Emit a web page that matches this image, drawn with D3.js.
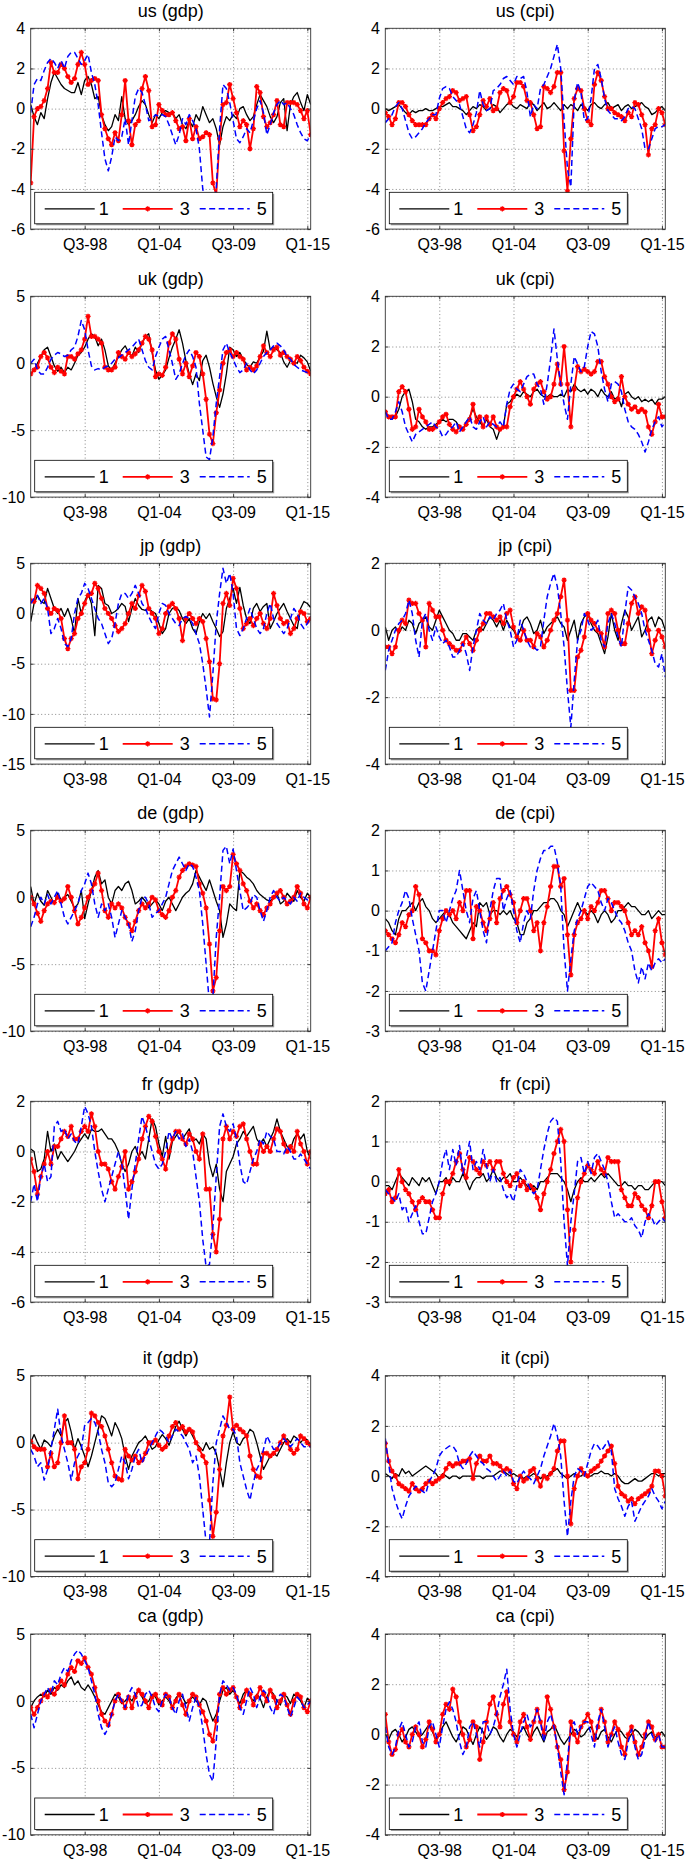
<!DOCTYPE html>
<html>
<head>
<meta charset="utf-8">
<script src="https://cdn.jsdelivr.net/npm/d3@7"></script>
<style>
  html, body { margin: 0; padding: 0; background: #fff; overflow: hidden; }
  svg { display: block; }
  .grid line { stroke: #000; stroke-opacity: 0.6; stroke-dasharray: 1,2.5; stroke-width: 0.8; }
</style>
</head>
<body>
<div id="chart"></div>
<script>
// quarterly forecast errors, Q3-94 .. Q2-15, horizons 1, 3 and 5
const usGdp1 = [0.2, -0.4, -0.8, -0.2, -0.5, 0.5, 1.3, 1.8, 1.5, 1.2, 1.0, 0.9, 0.8, 0.8, 1.3, 0.7, 1.4, 1.6, 1.2, 0.5, 0.6, -0.3, -0.8, -1.1, -0.9, -0.3, -0.6, 0.6, -0.5, -0.8, -0.6, -0.3, 0.1, 0.4, 0.2, -0.3, -0.7, -0.3, -0.5, -0.2, -0.1, -0.2, -0.2, -0.5, -0.3, -0.8, -1.0, -0.6, -0.9, -0.3, -0.6, 0.1, -0.3, -0.7, -0.5, -1.0, -1.8, -0.9, -0.4, -0.6, -0.3, -0.5, 0.0, 0.1, -0.3, -0.6, -0.4, 0.2, 0.7, 0.4, 0.1, -0.4, -0.7, -0.4, 0.3, 0.5, -1.1, 0.2, 0.6, 0.8, 0.3, -0.1, 0.7, 0.2];
const usGdp3 = [-3.7, -0.4, 0.0, 0.1, 0.4, 1.0, 2.3, 1.8, 1.8, 2.2, 2.0, 1.6, 1.3, 1.5, 2.2, 2.8, 2.2, 1.2, 1.4, 1.5, 1.4, -0.3, -1.0, -1.5, -1.8, -1.2, -1.6, -0.3, 1.4, -0.6, -1.8, -0.8, -0.6, 1.0, 1.6, 0.9, -0.9, -0.8, 0.2, -0.1, -0.3, -0.3, -0.2, -0.6, -1.0, -0.9, -1.6, -0.5, -1.5, -0.9, -1.5, -1.4, -1.2, -1.3, -3.7, -4.3, -1.5, 0.2, 0.3, 1.2, 0.5, -0.2, -0.9, -0.6, -0.8, -2.0, -1.0, 1.1, 0.8, -0.4, -0.9, -0.7, -0.3, 0.4, -0.8, -0.9, 0.3, 0.3, 0.3, 0.2, -0.1, -0.5, -0.1, -1.3];
const usGdp5 = [-0.2, 1.2, 1.5, 1.4, 1.9, 2.3, 2.5, 2.3, 2.0, 2.4, 2.0, 2.6, 2.8, 2.8, 2.5, 2.2, 2.4, 2.7, 1.8, 1.2, 0.2, -1.2, -2.5, -3.1, -2.4, -1.4, -1.6, -1.4, -0.5, -1.8, -0.6, 0.6, 1.0, 0.8, 0.2, -0.6, -0.5, -0.3, -0.4, -0.3, -0.4, -0.8, -1.3, -1.8, -1.3, -0.5, -0.8, -0.3, -0.6, -1.0, -2.0, -4.0, -5.0, -5.5, -5.0, -4.0, -1.0, 1.2, 1.0, 0.3, -0.6, -1.5, -1.7, -1.4, -1.0, -1.2, -0.6, 0.0, 0.4, -0.2, -1.3, -0.8, -0.2, 0.2, 0.4, 0.2, 0.3, 0.0, -0.3, -0.8, -1.2, -1.5, -1.6, -1.3];

const usCpi1 = [0.0, -0.1, 0.0, 0.1, 0.2, 0.0, -0.2, -0.3, -0.1, -0.2, -0.1, -0.1, 0.0, -0.1, -0.1, 0.0, 0.1, 0.1, 0.2, 0.3, 0.1, 0.1, 0.0, -0.1, -0.3, -0.1, 0.1, 0.0, 0.2, 0.1, -0.1, 0.0, 0.2, 0.1, -0.2, 0.0, 0.2, 0.3, 0.1, 0.0, 0.2, 0.1, 0.0, 0.3, 0.2, -0.1, 0.1, 0.3, 0.0, 0.1, 0.3, 0.1, -0.1, 0.2, 0.0, 0.2, 0.1, -0.1, 0.2, 0.1, -0.1, 0.2, 0.3, 0.1, 0.0, 0.2, 0.3, 0.0, 0.1, 0.2, -0.1, 0.1, 0.2, 0.0, 0.1, 0.2, 0.3, 0.1, 0.0, -0.3, -0.2, 0.0, 0.1, -0.1];
const usCpi3 = [-0.2, -0.4, -0.8, -0.5, 0.3, 0.3, 0.1, -0.3, -0.6, -0.8, -0.8, -0.8, -0.8, -0.5, -0.3, -0.5, 0.0, 0.3, 0.5, 0.6, 0.9, 0.8, 0.4, 0.5, 0.6, -0.3, -1.1, -0.9, -0.3, 0.4, 0.1, 0.5, -0.1, 0.0, 0.8, 1.0, 0.9, 0.3, 0.6, 1.3, 1.3, 1.1, 0.4, 0.3, -0.3, -1.0, -0.9, 1.1, 1.0, 0.8, 1.1, 1.8, 1.8, -2.1, -4.1, -1.5, 0.5, 1.0, 0.9, 0.0, -0.6, -0.8, 1.2, 1.8, 1.4, 0.6, 0.0, 0.0, -0.2, -0.3, -0.4, -0.6, -0.2, -0.4, 0.3, 0.2, -0.3, -0.8, -2.3, -1.0, -0.8, 0.0, -0.2, -0.8];
const usCpi5 = [-0.7, -0.5, -0.3, 0.1, 0.3, 0.0, -0.6, -1.2, -1.5, -1.4, -1.2, -1.0, -0.7, -0.5, -0.3, -0.3, 0.5, 1.0, 1.1, 1.0, 0.6, 0.4, 0.2, -0.4, -1.0, -1.2, -0.8, -0.2, 0.9, 0.2, -0.1, 0.0, 0.9, 1.0, 1.2, 1.5, 1.6, 1.4, 1.2, 1.6, 1.5, 1.6, 0.8, -0.4, 0.2, 0.0, 1.0, 1.2, 1.6, 2.0, 2.6, 3.2, 2.0, -0.6, -3.0, -3.9, 0.4, 1.3, 0.8, -0.6, -0.5, 0.5, 2.0, 2.2, 1.5, 0.5, -0.1, -0.3, -0.5, -0.5, -0.6, -0.4, 0.0, 0.1, 0.0, -0.5, -1.0, -2.0, -2.0, -1.5, -1.0, -0.9, -0.9, -0.8];

const ukGdp1 = [-0.8, -0.5, 0.0, 0.5, 1.0, 1.2, 0.5, -0.2, -0.6, -0.3, -0.7, -0.3, -0.5, 0.0, 0.6, 0.8, 1.2, 1.8, 2.2, 2.0, 1.3, 1.8, 1.0, -0.2, -0.5, 0.0, 0.5, 1.0, 1.3, 0.8, 0.5, 1.2, 0.8, 1.5, 2.0, 2.2, 0.8, -0.5, -1.2, -0.9, -0.5, 0.4, 1.2, 1.8, 2.5, 1.5, 0.2, -0.8, -1.6, -0.8, -1.3, 0.2, 0.6, -0.3, -1.5, -2.5, -3.3, -2.3, -0.8, 1.2, 1.0, 0.5, 0.8, 0.3, -0.1, -0.3, 0.1, 0.0, 0.5, 0.9, 2.4, 1.0, 1.2, 1.0, 0.8, 0.1, -0.3, 0.2, 0.1, 0.0, 0.6, 0.4, 0.1, -0.6];
const ukGdp3 = [-0.8, -0.5, -0.3, 0.5, 0.8, 0.4, -0.3, -0.7, -0.3, -0.6, -0.8, 0.5, 0.5, 0.3, 0.7, 1.0, 1.8, 3.5, 2.0, 2.0, 1.8, 1.5, -0.3, -0.5, -0.5, -0.3, 0.8, 0.5, 0.3, 0.8, 0.5, 0.7, 1.0, 1.5, 2.0, 1.8, 1.0, -1.0, -0.8, -0.9, -0.3, 1.5, 2.2, 1.8, 0.3, -0.8, 0.0, -1.0, -0.2, 0.8, 0.5, -0.8, -2.7, -5.3, -6.0, -3.7, -2.0, 0.0, 0.8, 1.0, 0.5, 0.8, 0.5, 0.3, -0.5, -0.3, -0.5, -0.2, 0.5, 1.3, 0.8, 0.5, 1.0, 1.2, 0.6, 0.8, 0.5, 0.3, 0.0, 0.5, 0.2, -0.3, -0.6, -0.8];
const ukGdp5 = [0.0, 0.3, -0.5, -0.8, -0.8, -0.3, 0.3, 0.6, 0.8, 0.7, 0.5, 0.6, 1.0, 1.2, 2.0, 3.2, 2.5, 1.0, -0.2, -0.5, -0.4, -0.5, -0.3, -0.2, 0.0, 0.3, 0.4, 0.6, 0.8, 1.0, 1.2, 1.5, 1.8, 1.0, 0.2, -0.3, -0.5, 0.5, 1.2, 1.8, 2.0, 1.0, 0.0, -1.2, -0.8, 0.0, 0.6, 1.0, 0.5, -0.3, -3.0, -5.0, -7.0, -7.2, -5.5, -3.0, -1.0, 1.0, 1.5, 0.8, 0.3, -0.3, -0.7, -0.5, 0.0, -0.5, -0.8, -0.5, 0.0, 0.5, 0.8, 1.0, 1.3, 1.5, 1.3, 1.0, 0.5, 0.3, -0.1, -0.3, -0.5, -0.6, -0.7, -0.8];

const ukCpi1 = [-0.6, -0.8, -0.9, -0.8, -0.5, 0.0, 0.2, 0.3, -0.2, -0.9, -1.0, -1.2, -1.3, -1.2, -1.2, -1.1, -1.0, -0.9, -1.0, -0.9, -0.9, -1.0, -1.2, -1.3, -1.0, -0.8, -0.5, -0.8, -1.0, -1.2, -0.9, -1.2, -1.3, -1.7, -1.3, -1.2, -0.3, -0.2, 0.0, 0.1, 0.0, 0.2, 0.1, 0.0, 0.2, 0.3, 0.1, 0.0, 0.0, 0.1, 0.0, 0.0, 0.1, 0.0, 0.3, 0.2, 0.5, 0.3, 0.2, 0.3, 0.1, 0.3, 0.2, 0.0, 0.3, 0.1, 0.0, 0.2, -0.1, 0.0, -0.4, 0.1, 0.2, 0.0, -0.1, 0.0, -0.2, -0.1, -0.2, -0.1, -0.3, -0.1, -0.1, 0.0];
const ukCpi3 = [-0.6, -0.8, -0.8, -0.8, 0.2, 0.4, 0.2, -0.5, -1.3, -1.2, -0.5, -0.8, -1.0, -1.3, -1.3, -1.2, -1.0, -0.8, -0.7, -1.1, -1.3, -1.4, -1.2, -1.3, -1.1, -0.9, -0.3, -1.0, -0.8, -1.2, -0.8, -1.1, -0.8, -1.2, -1.3, -1.2, -1.2, -0.4, 0.0, 0.3, 0.6, 0.3, 0.0, -0.3, 0.3, 0.5, 0.6, 0.2, -0.1, 0.0, 0.5, 1.3, 0.5, 2.0, 0.5, -1.2, 0.3, 1.2, 1.0, 1.1, 1.0, 0.9, 1.0, 1.4, 1.4, 0.8, 0.5, 0.0, -0.2, -0.1, 0.8, 0.0, -0.3, -0.5, -0.4, -0.6, -0.5, -0.6, -1.2, -1.5, -1.0, -0.3, -0.8, -0.8];
const ukCpi5 = [-0.6, -0.9, -0.9, -0.6, -0.2, -0.6, -1.2, -1.5, -1.8, -1.5, -1.4, -1.3, -1.2, -1.1, -1.0, -1.2, -1.3, -1.6, -1.5, -1.3, -1.2, -1.0, -1.4, -1.2, -1.0, -0.8, -1.2, -1.3, -1.0, -0.8, -1.2, -1.0, -1.1, -1.2, -1.0, -1.2, -0.3, 0.3, 0.5, 0.3, 0.2, 0.5, 0.8, 0.9, 0.9, 0.5, 0.3, -0.3, 0.5, 1.5, 2.7, 1.5, 0.5, -0.3, -0.9, 0.5, 1.6, 1.3, 1.0, 1.2, 2.0, 2.6, 2.5, 2.0, 1.0, 0.3, -0.2, 0.5, 0.6, 0.5, 0.2, -0.5, -1.0, -1.2, -1.3, -1.5, -1.8, -2.2, -1.8, -1.3, -1.0, -0.8, -1.2, -1.0];

const jpGdp1 = [-0.8, 1.0, 1.8, 1.2, 1.0, 2.5, 1.5, 0.5, 0.0, 0.5, -0.3, 0.5, -0.5, -2.0, 1.5, 0.0, 1.2, 2.0, 1.0, -2.2, 2.8, 2.5, 1.0, 0.8, 0.0, 0.2, 0.5, 1.0, 0.7, -0.8, 0.5, 1.5, 0.8, 0.4, 0.3, 0.5, 0.2, 0.0, -1.0, -2.0, -1.5, 0.0, 0.5, 0.6, 0.3, -0.5, -1.0, -0.5, -1.5, -2.0, -0.8, 0.0, -0.5, 0.0, -0.8, -1.5, -2.3, -1.8, 0.5, 1.5, 2.5, 1.0, 2.6, 0.8, -0.5, -1.0, 0.5, 1.0, 0.2, 0.7, 1.0, -1.5, -0.8, 0.0, 0.5, 1.0, 0.2, -0.5, -1.2, -1.5, 0.5, 1.2, 1.0, 0.6];
const jpGdp3 = [1.3, 1.2, 2.8, 2.5, 2.0, 0.5, 0.0, 0.5, 0.3, -0.5, -2.5, -3.5, -2.5, -2.0, -0.5, 0.0, 1.0, 1.8, 2.0, 3.0, 2.5, 1.5, 0.5, 0.0, -0.5, -1.2, -1.8, -1.5, -1.0, 0.0, 1.0, 0.5, 1.8, 2.8, 2.2, 0.5, 0.0, -0.5, -2.0, -1.5, 0.0, 0.7, 1.0, 0.5, -0.5, -2.7, -0.5, 0.0, -0.5, -1.0, -0.5, -0.8, -2.5, -4.8, -8.5, -8.6, -5.0, 1.0, 2.0, 0.8, 3.5, 2.5, 0.5, -1.5, -1.0, -0.5, -1.2, -0.5, 0.0, -1.0, -1.5, -0.5, 2.0, 0.8, -0.5, -1.0, -0.8, -2.0, -1.5, -0.5, 0.2, 0.0, -0.8, -0.5];
const jpGdp5 = [1.0, 1.5, 1.8, 1.0, 1.5, 0.5, -2.0, -1.5, -0.5, -1.5, -3.0, -3.3, -2.5, 0.0, 1.5, 2.0, 3.0, 2.5, 1.5, 0.5, -0.5, -1.0, -2.0, -3.0, -2.5, -1.0, 1.0, 2.0, 2.0, 1.5, 2.0, 2.8, 2.0, 1.0, 0.5, -0.3, -1.0, -1.5, 0.0, 1.0, 0.8, 0.0, -0.5, -1.0, -1.2, -0.5, -0.3, -0.5, -1.0, -2.0, -3.0, -5.0, -7.5, -10.3, -6.0, -1.0, 2.0, 4.5, 3.0, 4.0, 2.0, -1.5, -2.2, -1.5, -0.5, 0.5, -0.5, -1.5, -2.0, -1.5, 0.0, 1.0, -0.5, -1.0, -1.5, -2.0, -1.5, -0.5, 0.5, 0.0, -1.0, -1.5, -1.0, -0.3];

const jpCpi1 = [0.1, -0.3, 0.0, 0.1, -0.1, 0.1, 0.0, 0.3, 0.2, -0.1, 0.2, 0.3, 0.4, 0.1, 0.0, 0.3, 0.6, 0.4, 0.2, 0.0, -0.1, -0.3, -0.3, -0.1, -0.1, -0.2, -0.3, 0.0, 0.1, 0.0, 0.2, 0.4, 0.3, 0.1, 0.3, 0.0, 0.3, 0.1, 0.0, -0.2, 0.0, 0.3, 0.4, 0.2, -0.1, 0.0, 0.3, -0.1, 0.1, 0.2, 0.3, 0.4, 0.2, 0.1, -0.3, 0.0, 0.3, -0.3, 0.2, 0.4, 0.5, 0.2, 0.0, -0.1, -0.4, -0.7, -0.2, 0.5, 0.0, -0.3, 0.2, 0.6, 0.4, 0.0, 0.2, 0.4, -0.2, 0.0, 0.3, 0.4, 0.1, 0.4, 0.3, 0.0];
const jpCpi3 = [-0.5, -0.5, -0.7, -0.5, 0.0, 0.3, 0.2, 0.9, 0.8, 0.8, 0.5, 0.3, -0.5, 0.8, 0.6, 0.4, 0.4, 0.0, -0.3, -0.4, -0.5, -0.6, -0.6, -0.4, -0.2, -0.4, -0.6, -0.3, 0.0, 0.2, 0.5, 0.5, 0.4, 0.3, 0.4, 0.2, 0.5, 0.6, 0.1, -0.2, -0.3, 0.0, -0.3, -0.3, -0.5, -0.1, -0.2, -0.5, -0.3, 0.0, 0.3, 0.5, 1.0, 1.5, 0.3, -1.8, -1.8, -0.8, -0.6, -0.2, 0.5, 0.3, 0.2, 0.0, -0.1, -0.5, 0.5, 0.6, 0.5, 0.0, -0.4, -0.4, 0.2, 0.8, 1.0, 0.5, 0.7, 0.6, 0.0, -0.7, -0.3, 0.0, -0.2, -0.5];
const jpCpi5 = [-1.2, -0.6, -0.3, 0.0, 0.2, 0.3, 0.5, 0.9, 0.5, -0.3, -0.8, 0.3, 0.5, 0.0, -0.3, 0.1, -0.2, -0.4, -0.3, -0.5, -0.8, -0.8, -0.6, -0.4, -0.7, -1.2, -0.5, 0.0, 0.5, 0.3, 0.2, 0.4, 0.3, 0.5, 0.6, 0.8, 0.3, 0.0, -0.5, -0.3, 0.3, 0.0, -0.3, -0.5, -0.5, -0.6, -0.5, 0.3, 1.0, 1.4, 1.7, 1.3, 0.5, -0.5, -1.8, -2.9, -1.5, -0.3, 0.0, 0.5, 0.3, 0.0, 0.1, 0.3, -0.3, -0.5, 0.2, 0.5, 0.2, -0.2, -0.5, 0.5, 1.3, 1.2, 1.0, 0.8, 0.5, 0.0, -0.3, -0.6, -1.0, -1.1, -0.7, -1.4];

const deGdp1 = [0.8, -0.5, 0.3, -0.3, -0.6, 0.5, 0.0, -0.5, 0.3, -0.2, 0.0, 0.2, -0.3, -0.8, -0.5, 0.5, -1.6, -0.5, 0.5, 1.5, 2.0, 1.0, 1.3, 0.0, -0.5, 0.5, 0.8, 0.5, 1.0, 1.2, 0.5, -0.5, -0.3, 0.0, -0.3, -0.8, -0.5, -0.2, -0.5, -1.0, -0.3, 0.0, -0.5, -1.0, -0.5, 0.0, 0.3, 0.5, 1.0, 2.0, 1.5, 1.0, 0.5, 1.3, 0.5, -0.3, -1.0, -3.0, -2.0, -0.5, -0.8, -1.0, 2.0, 1.8, 1.5, 1.3, 1.0, 0.5, 0.2, 0.0, -0.2, -0.3, 0.0, 0.3, -0.5, -0.3, 0.3, 0.0, -0.3, 0.5, 0.0, -0.3, 0.3, 0.0];
const deGdp3 = [0.0, -0.5, -1.2, -1.8, -1.0, -0.5, -0.3, -0.4, 0.0, -0.3, -0.1, 0.8, 0.0, -1.0, -2.0, -1.5, -0.8, 0.0, 0.5, 1.0, 1.8, 0.5, -1.0, -1.5, -0.5, -0.8, -0.5, -0.8, -1.5, -2.0, -2.5, -1.8, -1.0, -0.5, -0.8, -0.5, 0.0, -0.2, -1.0, -1.3, -1.5, -1.0, 0.0, 0.5, 1.5, 2.0, 2.3, 2.5, 2.4, 2.3, 1.0, 0.3, -0.8, -3.5, -7.0, -6.0, -2.5, 0.8, 0.5, 0.8, 3.2, 2.5, 2.0, 1.0, 0.5, -0.3, -0.8, -0.5, -1.0, -1.3, -0.8, -0.5, 0.0, 0.3, 0.5, 0.0, -0.5, -0.3, 0.0, 0.8, 0.3, -0.5, -0.8, 0.0];
const deGdp5 = [-2.2, -1.5, -0.5, 0.0, -0.5, 0.2, -0.5, 0.0, 0.5, -0.5, -1.5, -2.0, -1.5, -1.0, -0.5, 0.5, 1.0, 1.8, 1.0, -0.5, -1.5, -0.5, -1.0, -0.5, -1.5, -3.0, -2.0, -1.0, -1.5, -2.0, -3.3, -2.5, -1.0, 0.0, 0.0, -0.5, -1.5, -1.2, -1.0, -0.5, 0.0, 1.0, 2.0, 2.5, 3.0, 2.5, 2.0, 2.5, 2.3, 1.5, 0.5, -2.0, -5.0, -8.0, -7.5, -3.0, 0.0, 3.5, 3.8, 2.5, 3.6, 2.0, 0.5, -1.0, -0.8, -0.5, 0.2, 0.0, -1.0, -1.8, -1.0, 0.0, 0.5, 0.0, -0.3, 0.0, -0.3, -0.5, 0.0, -0.3, 0.3, 0.0, -0.2, 0.0];

const deCpi1 = [-0.2, -0.3, -0.5, -0.6, -0.2, 0.0, 0.0, 0.1, 0.2, 0.0, 0.2, 0.3, 0.1, 0.0, -0.2, -0.3, -0.2, -0.1, 0.0, -0.1, -0.3, -0.4, -0.5, -0.6, -0.7, -0.5, -0.3, -0.4, 0.2, 0.1, 0.2, -0.1, 0.0, 0.0, -0.1, 0.0, -0.1, 0.0, -0.2, -0.3, -0.6, -0.6, -0.3, -0.2, 0.0, 0.0, 0.1, 0.2, 0.2, 0.3, 0.3, 0.2, 0.0, -0.1, -0.4, -0.2, 0.0, 0.2, 0.0, 0.0, -0.1, 0.0, -0.1, -0.3, -0.1, 0.0, -0.1, -0.3, -0.2, 0.0, 0.0, 0.1, 0.2, 0.1, 0.1, 0.0, -0.1, -0.1, 0.0, -0.2, -0.1, 0.0, -0.1, -0.1];
const deCpi3 = [-0.5, -0.6, -0.7, -0.8, -0.6, -0.3, -0.4, -0.1, 0.0, 0.6, 0.4, -0.7, -0.8, -1.0, -1.0, -1.1, -0.5, -0.2, 0.0, -0.1, 0.0, -0.2, 0.2, 0.0, 0.5, 0.5, -0.7, 0.1, 0.0, -0.3, -0.5, -0.2, 0.2, -0.3, 0.3, 0.5, 0.6, 0.4, 0.2, -0.3, 0.0, 0.3, 0.3, 0.0, -0.5, -0.3, -1.0, -0.3, 0.1, 0.6, 1.1, 1.1, 0.6, 0.8, -0.6, -1.6, -0.6, -0.3, -0.2, 0.0, -0.2, 0.1, 0.0, 0.2, 0.5, 0.5, 0.3, 0.0, 0.2, 0.2, 0.1, 0.0, -0.3, -0.6, -0.5, -0.6, -0.4, -0.8, -1.0, -1.4, -0.5, -0.2, -0.8, -1.1];
const deCpi5 = [-1.0, -0.9, -0.8, -0.3, 0.0, 0.2, 0.5, 0.3, -0.2, -0.6, -1.0, -1.8, -2.0, -1.5, -1.0, -0.5, 0.0, 0.0, -0.3, 0.0, 0.3, 0.5, 1.0, 0.5, 0.0, -0.3, 0.3, 0.5, 0.0, -0.5, -0.8, 0.0, 0.5, 0.8, 0.8, 0.0, 0.3, 0.5, 0.0, -0.5, -0.8, -0.3, 0.0, -0.2, 0.5, 1.0, 1.3, 1.5, 1.5, 1.6, 1.6, 1.2, 0.6, -1.0, -2.0, -1.2, -0.5, -0.2, 0.0, 0.3, 0.6, 0.7, 0.6, 0.5, 0.2, 0.0, 0.3, 0.2, 0.0, -0.2, -0.3, -0.5, -0.8, -1.0, -1.5, -1.8, -1.4, -1.7, -1.3, -1.5, -1.3, -1.2, -1.3, -1.2];

const frGdp1 = [0.1, 0.0, -0.8, -0.7, -0.3, 0.8, 0.0, 0.3, -0.3, 0.0, -0.2, -0.4, -0.2, 0.0, 0.3, 0.5, 0.7, 0.5, 0.9, 0.8, 0.8, 0.9, 0.7, 0.5, 0.5, 0.3, 0.0, -0.5, -0.8, -0.5, 0.0, 0.2, -0.2, 0.0, -0.3, 0.5, 1.3, 1.0, 0.3, -0.2, 0.6, -0.3, 0.4, 0.6, 0.8, 0.5, 0.7, 0.9, 0.4, 0.5, 0.3, 0.7, 0.5, -0.5, -1.0, -0.5, -1.5, -2.0, -0.8, -0.5, -0.2, 0.3, 0.5, 0.8, 0.6, 0.8, 1.0, 0.5, 0.3, 0.5, 0.2, 0.5, 0.8, 1.3, 0.8, 0.5, 0.2, 0.1, 0.5, 0.7, 0.5, 0.7, 0.0, -0.3];
const frGdp3 = [-0.3, -0.8, -1.7, -1.0, -0.5, 0.0, -0.5, 0.2, 0.2, 0.5, 0.8, 0.6, 1.0, 0.5, 0.5, 0.8, 1.0, 0.8, 1.5, 1.0, 0.0, -0.5, -0.5, -0.7, -1.2, -1.5, -1.0, -0.6, 0.0, -1.5, -1.2, -0.8, -0.3, 0.5, 1.0, 1.4, 1.2, 0.6, 0.0, -0.3, -0.7, 0.0, 0.5, 0.8, 0.8, 0.5, 0.3, 0.7, 0.5, 0.0, -0.3, 0.7, -1.5, -1.5, -3.3, -4.0, -2.7, 0.5, 1.0, 0.5, 0.8, 0.6, 1.0, 1.1, 0.5, 0.0, -0.5, -0.5, 0.3, 0.0, 0.2, 0.0, 0.5, 0.9, 0.8, 0.3, 0.0, 0.2, 0.0, 0.8, 0.3, 0.0, -0.5, 0.0];
const frGdp5 = [-2.0, -1.3, -2.0, -1.0, -0.5, -1.2, -1.0, 1.0, 1.2, 0.8, 0.9, 0.5, 0.7, 0.4, 0.3, 1.0, 1.8, 1.5, 1.0, 0.0, -0.8, -1.5, -2.0, -1.5, -1.0, -0.5, 0.0, -0.5, -1.5, -2.7, -1.5, -0.5, 0.5, 1.4, 1.0, 0.5, 0.0, -0.5, -0.7, -0.5, 0.0, 0.8, 0.5, 0.8, 0.5, 0.7, 0.2, 0.5, 0.0, -1.0, -2.0, -3.5, -4.6, -4.5, -3.0, -1.0, 1.0, 1.5, 1.0, 0.8, 1.1, 0.5, -0.5, -1.2, -1.3, -0.8, -0.3, 0.0, 0.5, 0.3, 0.8, 0.6, 0.5, 0.0, 0.0, -0.1, 0.2, 0.0, -0.3, -0.3, -0.1, -0.3, -0.5, -0.7];

const frCpi1 = [-0.1, -0.1, -0.2, 0.0, 0.2, 0.1, 0.0, -0.1, 0.1, 0.0, -0.1, 0.1, 0.0, 0.1, -0.1, -0.3, 0.0, 0.0, 0.1, -0.1, 0.1, 0.0, 0.0, 0.2, 0.0, -0.2, 0.0, 0.1, 0.1, 0.2, 0.0, 0.1, 0.3, 0.1, 0.0, 0.1, 0.1, 0.2, 0.0, 0.0, 0.1, 0.0, -0.1, -0.2, -0.1, -0.2, 0.0, 0.0, 0.1, 0.2, 0.2, 0.2, 0.1, 0.0, -0.2, -0.5, -0.2, 0.0, 0.1, 0.0, 0.0, 0.1, 0.0, 0.1, 0.2, 0.1, 0.2, 0.1, 0.0, -0.1, -0.1, 0.0, -0.1, -0.1, -0.2, -0.1, -0.1, -0.2, -0.2, -0.1, 0.0, 0.0, 0.0, -0.1];
const frCpi3 = [-0.3, -0.2, -0.5, -0.4, 0.3, 0.0, -0.2, -0.3, -0.5, -0.7, -0.5, -0.4, -0.5, -0.5, -0.7, -0.9, -0.9, -0.3, 0.0, 0.0, 0.2, 0.5, 0.7, 0.3, 0.1, 0.6, 0.5, 0.3, 0.2, 0.5, 0.4, 0.5, 0.3, 0.5, 0.5, 0.2, 0.0, -0.1, 0.1, 0.2, -0.1, 0.0, -0.2, -0.1, -0.2, -0.4, -0.7, -0.3, 0.0, 0.3, 0.7, 1.0, 1.3, 1.0, -0.7, -2.0, -1.2, -0.4, 0.0, 0.2, 0.4, 0.3, 0.2, 0.5, 0.3, 0.2, 0.6, 0.5, 0.5, 0.5, -0.2, -0.4, -0.6, -0.6, -0.3, -0.4, -0.6, -0.7, -0.9, -0.6, 0.0, 0.0, -0.5, -0.9];
const frCpi5 = [-0.2, -0.3, -0.4, -0.5, -0.3, -0.7, -0.6, -1.0, -0.8, -0.6, -1.0, -1.3, -1.3, -0.9, -0.5, -0.3, 0.0, 0.5, 0.8, 0.3, 0.8, 0.4, 0.9, 0.2, 0.6, 1.0, 0.3, 0.5, 0.3, 0.8, 0.4, 0.0, 0.3, 0.0, 0.1, -0.2, -0.4, -0.3, -0.5, -0.1, 0.3, 0.2, 0.0, -0.2, -0.3, -0.2, 0.3, 0.8, 1.2, 1.5, 1.6, 1.5, 0.5, -1.0, -2.1, -1.0, -0.3, 0.5, 0.6, 0.2, 0.5, 0.2, 0.6, 0.7, 0.5, 0.3, 0.0, -0.5, -0.9, -0.8, -0.9, -1.0, -1.0, -0.9, -1.1, -1.2, -1.4, -1.0, -0.8, -0.9, -1.1, -1.0, -0.9, -1.0];

const itGdp1 = [0.0, 0.6, 0.0, -0.5, 0.2, 0.0, -0.3, 0.5, 1.0, 0.5, 1.5, 1.8, 0.8, -0.5, 0.3, -0.3, -1.0, -1.8, -1.0, 0.0, 1.0, 2.0, 1.8, 1.2, 0.5, 1.5, 1.0, 0.3, -1.0, -2.0, -1.0, -0.5, 0.0, 0.2, 0.5, 0.0, -0.5, -0.3, 0.2, 0.6, 0.3, -0.2, 0.5, 1.2, 1.6, 1.0, 0.5, 1.0, 0.5, 0.0, -0.3, -0.6, 0.0, -0.5, -0.3, -0.8, -2.0, -3.3, -1.5, 0.0, 0.8, 0.0, -0.2, 0.3, 0.5, 1.0, 0.8, 0.0, -1.0, -2.0, -1.5, -1.0, -0.8, -1.0, -0.5, 0.0, 0.3, 0.0, 0.5, 0.3, 0.0, 0.3, 0.2, -0.3];
const itGdp3 = [0.1, -0.3, -0.5, -0.5, -0.5, -1.8, -0.8, -1.8, -1.5, 0.0, 2.0, 0.0, 0.0, -0.5, -2.7, -1.8, -1.5, -0.5, 2.2, 2.0, 1.5, 1.2, 0.5, -0.5, -1.5, -2.5, -2.7, -2.8, -0.5, -1.0, -1.3, -1.0, -1.5, -1.3, -0.8, 0.0, 0.0, 0.2, -0.2, -0.5, -0.3, 0.5, 1.2, 1.5, 1.0, 1.2, 0.8, 1.0, 0.8, 0.0, -0.5, -1.0, -1.5, -4.3, -7.0, -5.2, -2.0, 0.5, 1.3, 3.4, 1.0, 1.3, 1.0, 0.8, 0.5, -1.0, -2.0, -2.5, -2.6, -0.8, -0.8, -1.0, -0.8, -0.5, 0.0, 0.5, 0.0, -0.5, -0.8, -0.5, 0.5, 0.3, 0.0, -0.2];
const itGdp5 = [-0.5, -1.0, -1.8, -1.5, -2.8, -2.0, -0.5, 1.0, 2.5, 0.5, -0.5, -1.5, -2.8, -1.5, -1.0, -0.5, 1.3, 1.5, 1.8, 1.5, 0.8, -0.5, -1.5, -3.0, -3.3, -3.0, -2.0, -1.0, -1.5, -2.7, -2.0, -1.0, -0.5, -1.5, -1.0, -0.5, 0.0, 0.5, 1.0, 0.8, 0.5, 0.0, 0.5, 1.0, 0.8, 0.5, 0.0, -0.5, -1.5, -1.0, -2.5, -5.0, -7.5, -7.5, -3.0, 0.0, 1.0, 2.0, 1.5, 1.0, 1.0, 0.5, -1.5, -2.5, -3.5, -4.3, -3.0, -2.0, -1.5, -0.5, 0.5, 0.0, -0.5, -0.5, 0.0, 0.3, 0.0, -0.3, 0.0, 0.3, 0.0, -0.3, -0.3, -0.3];

const itCpi1 = [0.1, 0.0, -0.1, 0.1, 0.0, 0.3, 0.1, 0.2, 0.0, 0.1, 0.2, 0.3, 0.4, 0.3, 0.2, 0.1, -0.1, 0.1, 0.0, -0.1, 0.0, 0.0, -0.1, 0.0, 0.0, 0.0, 0.0, 0.0, 0.0, -0.1, 0.0, 0.0, 0.0, 0.1, 0.2, 0.2, 0.1, 0.0, 0.1, 0.0, 0.0, -0.1, 0.0, 0.0, 0.1, 0.0, -0.1, 0.0, 0.0, 0.1, 0.2, 0.3, 0.1, 0.0, -0.1, 0.0, 0.1, 0.0, 0.0, 0.1, 0.0, 0.0, 0.1, 0.1, 0.2, 0.1, 0.1, 0.0, 0.1, 0.0, -0.2, -0.3, -0.3, -0.2, -0.1, -0.2, -0.2, -0.1, 0.0, 0.1, 0.1, 0.0, 0.1, 0.1];
const itCpi3 = [1.3, 0.6, 0.2, 0.0, -0.3, -0.4, -0.5, -0.6, -0.3, -0.5, -0.6, -0.5, -0.3, -0.2, -0.3, -0.2, -0.1, 0.0, 0.3, 0.5, 0.4, 0.5, 0.5, 0.6, 0.6, 0.7, -0.1, 0.5, 0.8, 0.6, 0.6, 0.8, 0.5, 0.5, 0.4, 0.2, 0.3, 0.2, -0.3, -0.5, 0.0, -0.2, -0.1, 0.2, 0.3, -0.1, -0.4, 0.0, -0.1, 0.1, 0.3, 1.0, 1.4, 1.4, 0.0, -1.9, -0.5, 0.0, 0.3, 0.1, 0.0, 0.2, 0.3, 0.4, 0.6, 0.8, 1.0, 1.2, 0.5, -0.4, -0.7, -0.8, -1.0, -0.9, -1.1, -0.9, -0.8, -0.7, -0.6, -0.4, 0.2, 0.2, 0.0, -0.8];
const itCpi5 = [1.5, 0.5, -0.5, -1.0, -1.4, -1.7, -1.2, -0.8, -0.6, -0.4, -0.5, -0.6, -0.7, -0.2, 0.0, 0.3, 0.8, 1.0, 1.1, 1.2, 1.2, 1.0, 0.5, 0.3, 0.5, 0.8, 1.0, 0.8, 0.6, 0.5, 0.3, 0.2, 0.0, -0.2, 0.0, 0.2, 0.0, 0.2, -0.2, -0.3, 0.0, 0.2, 0.0, -0.1, -0.3, 0.0, 0.3, 0.8, 1.2, 1.6, 2.1, 1.6, 0.8, -1.0, -2.4, -1.0, 0.0, 0.3, 0.2, 0.0, 0.5, 1.0, 1.3, 1.2, 1.0, 1.2, 1.4, 1.0, -0.5, -0.9, -1.2, -1.6, -1.2, -1.0, -1.8, -1.5, -1.2, -1.0, -0.8, -0.5, -0.8, -1.0, -1.3, -1.0];

const caGdp1 = [-0.5, 0.0, 0.3, 0.5, 0.3, 0.8, 0.5, 1.0, 0.8, 1.2, 1.0, 1.5, 1.8, 1.2, 1.5, 1.0, 0.8, 1.2, 0.8, 0.3, -0.3, -0.8, -1.0, -0.5, 0.0, 0.5, 0.3, -0.2, 0.0, 0.3, 0.0, 0.5, 0.8, 0.3, -0.2, 0.0, 0.5, 0.3, -0.3, 0.0, 0.3, 0.0, -0.5, 0.2, 0.5, 0.3, -0.2, 0.0, 0.3, 0.0, -0.3, 0.2, 0.0, -0.8, -1.5, -1.0, 0.0, 0.8, 1.0, 0.5, 0.8, 0.3, -0.2, 0.5, 0.8, 0.3, 0.0, 0.5, 0.2, -0.5, 0.3, 0.8, 0.5, 0.0, -0.3, 0.5, 0.3, -0.2, 0.5, 0.3, 0.0, -0.5, 0.2, 0.0];
const caGdp3 = [-0.5, -1.0, -0.5, 0.0, 0.5, 0.3, 0.8, 0.5, 1.0, 1.5, 1.2, 2.0, 2.5, 2.2, 3.0, 2.8, 3.2, 2.5, 2.0, 1.0, 0.0, -1.0, -1.5, -1.8, -1.0, 0.0, 0.5, 0.0, -0.5, 0.3, -0.5, 0.3, 0.8, 0.5, 0.0, -0.5, 0.3, 0.5, 0.0, -0.3, 0.5, 0.3, -0.5, 0.0, 0.5, -0.3, -1.0, 0.0, 0.5, 0.3, -0.3, -0.8, -1.5, -2.5, -3.0, -1.5, 0.5, 1.0, 0.5, 0.8, 1.0, 0.3, -0.5, 0.0, 0.8, 0.5, -0.3, 0.3, 1.0, 0.5, 0.0, 0.8, 0.3, -0.5, 0.0, 0.5, -0.3, -1.0, 0.0, 0.5, 0.3, -0.5, -0.8, 0.0];
const caGdp5 = [-1.0, -2.0, -1.0, 0.0, 0.5, 1.0, 0.5, 1.5, 1.2, 2.0, 2.5, 2.2, 3.0, 3.5, 3.8, 3.5, 3.0, 2.5, 1.5, 0.5, -1.0, -2.0, -2.5, -2.0, -1.0, 0.0, 0.5, 0.0, -0.5, 0.5, 1.0, 0.5, -0.5, -0.3, 0.5, 0.8, 0.3, -0.5, -0.8, 0.0, 0.5, 0.3, -0.5, -1.0, 0.0, 0.5, -0.5, -1.5, -0.5, 0.3, -0.5, -2.0, -4.0, -5.5, -6.0, -3.0, 0.5, 1.5, 1.2, 0.8, 1.0, 0.5, -0.5, -1.0, 0.0, 1.0, 0.5, -0.5, 0.3, 0.8, 0.5, -0.5, -1.0, 0.0, 0.5, 0.3, -0.5, -1.2, -0.5, 0.3, 0.0, -0.5, -0.3, 0.0];

const caCpi1 = [0.0, -0.2, 0.1, 0.2, 0.0, -0.3, -0.1, 0.2, 0.3, 0.1, -0.1, 0.0, 0.2, 0.4, 0.1, -0.2, 0.0, 0.3, 0.5, 0.2, -0.1, -0.3, 0.0, 0.3, 0.2, -0.1, -0.4, 0.0, 0.3, 0.1, -0.2, 0.0, 0.3, 0.2, -0.1, -0.3, 0.0, 0.2, 0.1, -0.1, 0.1, 0.3, 0.0, -0.2, 0.1, 0.3, 0.0, -0.3, 0.1, 0.2, 0.4, 0.1, -0.2, -0.4, -0.2, 0.0, 0.2, 0.1, -0.1, 0.0, 0.2, 0.3, 0.0, -0.2, 0.1, 0.2, -0.1, -0.3, 0.0, 0.2, 0.1, -0.1, -0.2, 0.0, 0.2, 0.1, -0.1, -0.2, 0.0, 0.1, -0.1, 0.0, 0.1, -0.1];
const caCpi3 = [0.8, -0.3, -0.8, -0.6, 0.0, 0.2, -0.3, -0.5, 0.0, 0.3, 0.0, -0.5, -0.2, 0.5, 0.2, -0.3, 0.0, 0.8, 1.2, 1.0, 1.8, 1.5, 0.5, 0.0, -0.5, -0.2, 0.5, 0.3, -1.0, -0.3, 0.5, 1.2, 1.5, 0.8, 0.3, 1.2, 1.7, 0.5, 0.0, -0.3, 0.5, 0.8, 0.3, -0.2, 0.5, 1.0, 0.5, 0.0, 1.5, 1.0, 0.3, -0.5, -1.0, -2.2, -1.5, 0.5, 0.0, -0.3, 0.3, 0.5, 0.8, 0.5, -0.2, 0.3, 1.0, 0.5, -0.3, 0.0, 0.5, 0.2, -0.5, -0.8, 0.0, 0.3, -0.3, -0.8, -0.5, 0.0, 0.5, 0.3, -0.2, 0.0, -0.5, -0.5];
const caCpi5 = [0.3, -0.5, -0.8, -0.5, 0.2, 0.5, 0.0, -0.5, -0.3, 0.3, 0.5, -0.3, -0.5, 0.3, 0.5, 0.0, -0.5, 0.3, 1.0, 1.3, 1.0, 0.5, -0.3, -0.8, -0.5, 0.3, 0.5, 0.0, -0.5, 0.5, 0.5, 0.0, 0.3, 0.8, 1.5, 2.0, 2.6, 1.0, 0.0, -0.5, 0.0, 0.5, 0.8, 0.3, 0.5, 1.0, 0.5, -0.3, 0.5, 0.8, 0.3, -0.5, -1.5, -2.4, -1.0, 0.3, 0.5, 0.0, 0.3, 0.5, 0.5, 0.0, -0.5, 0.5, 1.0, 0.3, -0.5, 0.0, 0.3, -0.3, -0.8, -1.0, -0.3, 0.2, -0.5, -1.0, -0.8, -0.2, 0.5, 0.0, -0.3, 0.0, -0.5, -0.5];

const titles = ['us (gdp)', 'us (cpi)', 'uk (gdp)', 'uk (cpi)', 'jp (gdp)', 'jp (cpi)', 'de (gdp)', 'de (cpi)',
                'fr (gdp)', 'fr (cpi)', 'it (gdp)', 'it (cpi)', 'ca (gdp)', 'ca (cpi)'];
const yMin  = [-6, -6, -10, -4, -15, -4, -10, -3, -6, -3, -10, -4, -10, -4];
const yMax  = [4, 4, 5, 4, 5, 2, 5, 2, 2, 2, 5, 4, 5, 4];
const yStep = [2, 2, 5, 2, 5, 2, 5, 1, 2, 1, 5, 2, 5, 2];
const xTickIdx = [16, 38, 60, 82];
const xTickLabels = ['Q3-98', 'Q1-04', 'Q3-09', 'Q1-15'];
const horizons = ['1', '3', '5'];

const series1 = [usGdp1, usCpi1, ukGdp1, ukCpi1, jpGdp1, jpCpi1, deGdp1, deCpi1, frGdp1, frCpi1, itGdp1, itCpi1, caGdp1, caCpi1];
const series3 = [usGdp3, usCpi3, ukGdp3, ukCpi3, jpGdp3, jpCpi3, deGdp3, deCpi3, frGdp3, frCpi3, itGdp3, itCpi3, caGdp3, caCpi3];
const series5 = [usGdp5, usCpi5, ukGdp5, ukCpi5, jpGdp5, jpCpi5, deGdp5, deCpi5, frGdp5, frCpi5, itGdp5, itCpi5, caGdp5, caCpi5];

const fontFamily = '"Liberation Sans", Arial, Helvetica, sans-serif';
const width = 685;
const height = 1867;
const colLeft = [30.7, 385.3];
const rowTop = [28.3, 296.3, 563.3, 830.3, 1101.3, 1375.7, 1634];
const plotW = 280;
const plotH = 200.8;
const starPath = 'M-2.6,0H2.6M0,-2.6V2.6M-1.8,-1.8L1.8,1.8M-1.8,1.8L1.8,-1.8';

const styles = [
  { color: '#000000', width: 1.3, dash: null, marker: false },
  { color: '#ff0000', width: 1.8, dash: null, marker: true },
  { color: '#0000ff', width: 1.5, dash: '6,3.5', marker: false },
];

const svg = d3.select('#chart')
  .append('svg')
  .attr('width', width)
  .attr('height', height)
  .attr('font-family', fontFamily);

titles.forEach((title, k) => drawPanel(title, k));

function drawPanel(title, k) {
  const row = Math.floor(k / 2);
  const col = k % 2;
  const g = svg.append('g').attr('transform', `translate(${colLeft[col]},${rowTop[row]})`);

  const n = series1[k].length;
  const x = d3.scaleLinear().domain([0, n - 1]).range([0, plotW]);
  const y = d3.scaleLinear().domain([yMin[k], yMax[k]]).range([plotH, 0]);
  const yTicks = d3.range(yMin[k], yMax[k] + yStep[k] / 2, yStep[k]);

  // dotted grid
  g.append('g').attr('class', 'grid')
    .call(d3.axisLeft(y).tickValues(yTicks).tickSize(-plotW).tickFormat(''))
    .call((s) => s.select('.domain').remove());
  g.append('g').attr('class', 'grid')
    .attr('transform', `translate(0,${plotH})`)
    .call(d3.axisBottom(x).tickValues(xTickIdx).tickSize(-plotH).tickFormat(''))
    .call((s) => s.select('.domain').remove());

  // series, clipped to the axes box
  const clipId = `clip-${k}`;
  g.append('clipPath').attr('id', clipId)
    .append('rect').attr('width', plotW).attr('height', plotH);
  const plot = g.append('g').attr('clip-path', `url(#${clipId})`);

  const line = d3.line().x((d, i) => x(i)).y((d) => y(d));
  [series1[k], series3[k], series5[k]].forEach((values, s) => {
    const st = styles[s];
    plot.append('path')
      .datum(values)
      .attr('fill', 'none')
      .attr('stroke', st.color)
      .attr('stroke-width', st.width)
      .attr('stroke-linejoin', 'round')
      .attr('stroke-dasharray', st.dash)
      .attr('d', line);
    if (st.marker) {
      plot.append('g')
        .selectAll('path')
        .data(values)
        .join('path')
        .attr('transform', (d, i) => `translate(${x(i)},${y(d)})`)
        .attr('d', starPath)
        .attr('stroke', st.color)
        .attr('stroke-width', 1.3)
        .attr('fill', 'none');
    }
  });

  // axes with inward ticks
  const tickColor = '#333';
  g.append('g')
    .style('color', tickColor)
    .call(d3.axisLeft(y).tickValues(yTicks).tickFormat((d) => String(d))
      .tickSizeInner(-3).tickSizeOuter(0).tickPadding(5.5))
    .call((s) => s.select('.domain').remove())
    .attr('font-size', 16).attr('font-family', fontFamily)
    .call((s) => s.selectAll('text').attr('fill', '#000'));
  g.append('g')
    .style('color', tickColor)
    .attr('transform', `translate(${plotW},0)`)
    .call(d3.axisRight(y).tickValues(yTicks).tickFormat('').tickSizeInner(-3).tickSizeOuter(0))
    .call((s) => s.select('.domain').remove());
  g.append('g')
    .style('color', tickColor)
    .attr('transform', `translate(0,${plotH})`)
    .call(d3.axisBottom(x).tickValues(xTickIdx).tickFormat((d, i) => xTickLabels[i])
      .tickSizeInner(-3).tickSizeOuter(0).tickPadding(9.5))
    .call((s) => s.select('.domain').remove())
    .attr('font-size', 16).attr('font-family', fontFamily)
    .call((s) => s.selectAll('text').attr('fill', '#000'));
  g.append('g')
    .style('color', tickColor)
    .call(d3.axisTop(x).tickValues(xTickIdx).tickFormat('').tickSizeInner(-3).tickSizeOuter(0))
    .call((s) => s.select('.domain').remove());

  g.append('rect')
    .attr('width', plotW).attr('height', plotH)
    .attr('fill', 'none').attr('stroke', '#333').attr('stroke-width', 0.9);

  // title
  g.append('text')
    .attr('x', plotW / 2).attr('y', -11.6)
    .attr('text-anchor', 'middle')
    .attr('font-size', 18)
    .text(title);

  drawLegend(g);
}

function drawLegend(g) {
  const lw = 238, lh = 31.5;
  const lg = g.append('g').attr('transform', 'translate(4,164)');
  lg.append('rect').attr('x', 1.5).attr('y', 1.5).attr('width', lw).attr('height', lh).attr('fill', '#9a9a9a');
  lg.append('rect').attr('width', lw).attr('height', lh)
    .attr('fill', '#fff').attr('stroke', '#000').attr('stroke-width', 0.8);

  const lineX = [[10, 60], [88, 138], [165, 215]];
  const textX = [64, 145, 222];
  const cy = 16.5;
  horizons.forEach((h, s) => {
    const st = styles[s];
    lg.append('line')
      .attr('x1', lineX[s][0]).attr('x2', lineX[s][1])
      .attr('y1', cy).attr('y2', cy)
      .attr('stroke', st.color).attr('stroke-width', st.width)
      .attr('stroke-dasharray', st.dash);
    if (st.marker) {
      lg.append('path')
        .attr('transform', `translate(${(lineX[s][0] + lineX[s][1]) / 2},${cy})`)
        .attr('d', starPath)
        .attr('stroke', st.color).attr('stroke-width', 1.3).attr('fill', 'none');
    }
    lg.append('text')
      .attr('x', textX[s]).attr('y', 23)
      .attr('font-size', 18)
      .text(h);
  });
}
</script>
</body>
</html>
